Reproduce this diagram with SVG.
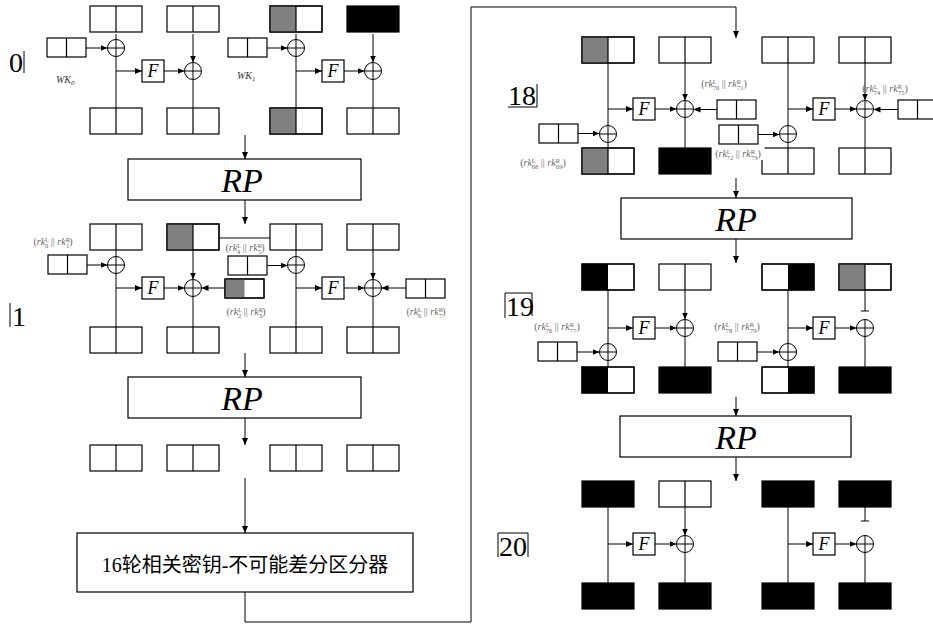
<svg xmlns="http://www.w3.org/2000/svg" xmlns:xlink="http://www.w3.org/1999/xlink" width="933" height="625" viewBox="0 0 933 625">
<style>
.b{fill:#fff;stroke:#000;stroke-width:1.2}
.d{stroke:#000;stroke-width:1.2}
.g{fill:#808080}
.k{fill:#000}
.ln{stroke:#000;stroke-width:1;fill:none}
.ar{marker-end:url(#ah)}
.xo circle{fill:#fff;stroke:#000;stroke-width:1}
.xo path{stroke:#000;stroke-width:1}
.fx{font-family:"Liberation Serif","DejaVu Serif","Times New Roman",serif;font-style:italic;font-size:18px;text-anchor:middle}
.rp{font-family:"Liberation Serif","DejaVu Serif","Times New Roman",serif;font-style:italic;font-size:34px;text-anchor:middle}
.num{font-family:"Liberation Serif","DejaVu Serif","Times New Roman",serif;font-size:28px}
.kl{font-family:"Liberation Serif","DejaVu Serif","Times New Roman",serif;font-size:10px;fill:#666;text-anchor:middle}
.kl .i{font-style:italic}
.kl .s{font-size:6.5px}
.wk{font-family:"Liberation Serif","DejaVu Serif","Times New Roman",serif;font-style:italic;font-size:10px;fill:#333}
.cn{font-family:"Liberation Serif","DejaVu Serif","Noto Sans CJK SC",serif;font-size:20px;text-anchor:middle}
</style>
<defs>
<marker id="ah" markerUnits="userSpaceOnUse" markerWidth="7" markerHeight="6" refX="7" refY="3" orient="auto"><path d="M0,0L7,3L0,6z" fill="#000"/></marker>
<g id="xor" class="xo"><circle r="8.5"/><path d="M-8.5 0H8.5M0-8.5V8.5"/></g>
<g id="pw"><rect class="b" width="52" height="26"/><path class="d" d="M26 0V26"/></g>
<g id="pg"><rect class="b" width="52" height="26"/><rect class="g" width="26" height="26"/><rect width="52" height="26" fill="none" stroke="#000" stroke-width="1.2"/><path class="d" d="M26 0V26"/></g>
<g id="pr"><rect class="b" width="52" height="26"/><rect class="k" x="26" width="26" height="26"/><rect width="52" height="26" fill="none" stroke="#000" stroke-width="1.2"/></g>
<g id="pl"><rect class="b" width="52" height="26"/><rect class="k" width="26" height="26"/><rect width="52" height="26" fill="none" stroke="#000" stroke-width="1.2"/></g>
<g id="pk"><rect width="52" height="26" fill="#000" stroke="#000" stroke-width="1.2"/></g>
<g id="kw"><rect class="b" width="39" height="19"/><path class="d" d="M19.5 0V19"/></g>
<g id="kg"><rect class="b" width="39" height="19"/><rect class="g" width="19.5" height="19"/><rect width="39" height="19" fill="none" stroke="#000" stroke-width="1.2"/></g>
</defs>
<rect width="933" height="625" fill="#fff"/>

<g id="connectors">
<path class="ln ar" d="M86 48H107.5"/>
<path class="ln" d="M116 34V108"/>
<path class="ln ar" d="M116 71H142"/>
<path class="ln ar" d="M164 71H184.5"/>
<path class="ln ar" d="M193 34V62.5"/>
<path class="ln" d="M193 79.5V108"/>
<path class="ln ar" d="M266 48H287.5"/>
<path class="ln" d="M296 34V108"/>
<path class="ln ar" d="M296 71H322"/>
<path class="ln ar" d="M344 71H364.5"/>
<path class="ln ar" d="M373 34V62.5"/>
<path class="ln" d="M373 79.5V108"/>
<path class="ln ar" d="M245 135V159"/>
<path class="ln ar" d="M245 200V224"/>
<path class="ln" d="M219 238H270"/>
<path class="ln ar" d="M87 265H107.5"/>
<path class="ln" d="M116 250V327"/>
<path class="ln ar" d="M116 288H142"/>
<path class="ln ar" d="M164 288H184.5"/>
<path class="ln ar" d="M193 250V279.5"/>
<path class="ln" d="M193 296.5V327"/>
<path class="ln ar" d="M225 288H201.5"/>
<path class="ln ar" d="M266 265.5H287.5"/>
<path class="ln" d="M296 250V327"/>
<path class="ln ar" d="M296 288H322"/>
<path class="ln ar" d="M344 288H364.5"/>
<path class="ln ar" d="M373 250V279.5"/>
<path class="ln" d="M373 296.5V327"/>
<path class="ln ar" d="M406 288H381.5"/>
<path class="ln ar" d="M245 353V377"/>
<path class="ln ar" d="M245 418V445"/>
<path class="ln ar" d="M245 478V533"/>
<path class="ln ar" d="M245 592V622H471V7H736V38"/>
<path class="ln" d="M608 63V148"/>
<path class="ln ar" d="M608 109H633"/>
<path class="ln ar" d="M578 133.5H599.5"/>
<path class="ln ar" d="M655 109H676.5"/>
<path class="ln ar" d="M685 63V100.5"/>
<path class="ln" d="M685 117.5V148"/>
<path class="ln ar" d="M717 109.5H693.5"/>
<path class="ln ar" d="M758 134.5H779.5"/>
<path class="ln" d="M788 63V148"/>
<path class="ln ar" d="M788 109H813"/>
<path class="ln ar" d="M835 109H856.5"/>
<path class="ln ar" d="M865 63V100.5"/>
<path class="ln" d="M865 117.5V148"/>
<path class="ln ar" d="M898 109.5H873.5"/>
<path class="ln ar" d="M736 178V198"/>
<path class="ln ar" d="M736 239V263"/>
<path class="ln" d="M608 290V367"/>
<path class="ln ar" d="M608 328H633"/>
<path class="ln ar" d="M577 352H599.5"/>
<path class="ln ar" d="M655 328H676.5"/>
<path class="ln ar" d="M685 290V319.5"/>
<path class="ln" d="M685 336.5V367"/>
<path class="ln ar" d="M757 352H779.5"/>
<path class="ln" d="M788 290V367"/>
<path class="ln ar" d="M788 328H813"/>
<path class="ln ar" d="M835 328H856.5"/>
<path class="ln" d="M865 290V311M861 311H869"/>
<path class="ln" d="M865 336.5V367"/>
<path class="ln ar" d="M736 397V416"/>
<path class="ln ar" d="M736 457V481"/>
<path class="ln" d="M608 507V583"/>
<path class="ln ar" d="M608 544H633"/>
<path class="ln ar" d="M655 544H676.5"/>
<path class="ln ar" d="M685 507V535.5"/>
<path class="ln" d="M685 552.5V583"/>
<path class="ln" d="M788 507V583"/>
<path class="ln ar" d="M788 544H813"/>
<path class="ln ar" d="M835 544H856.5"/>
<path class="ln" d="M865 507V521M861 521H869"/>
<path class="ln" d="M865 552.5V583"/>
</g>

<g id="r0-label"><text class="num" x="9" y="72">0</text><path class="ln" d="M24 51V73"/></g>
<g id="r0-in1"><use xlink:href="#pw" x="90" y="6"/></g>
<g id="r0-in2"><use xlink:href="#pw" x="167" y="6"/></g>
<g id="r0-in3"><use xlink:href="#pg" x="270" y="6"/></g>
<g id="r0-in4"><use xlink:href="#pk" x="347" y="6"/></g>
<g id="r0-wk0"><use xlink:href="#kw" x="47" y="38"/><text class="wk" x="56" y="83">WK<tspan font-size="7" dy="2">0</tspan></text></g>
<g id="r0-wk1"><use xlink:href="#kw" x="228" y="38"/><text class="wk" x="237" y="79">WK<tspan font-size="7" dy="2">1</tspan></text></g>
<g id="r0-x1"><use xlink:href="#xor" x="116" y="48"/></g>
<g id="r0-x2"><use xlink:href="#xor" x="193" y="71"/></g>
<g id="r0-x3"><use xlink:href="#xor" x="296" y="48"/></g>
<g id="r0-x4"><use xlink:href="#xor" x="373" y="71"/></g>
<g id="r0-f1"><rect class="b" x="142" y="60" width="22" height="22"/><text class="fx" x="153" y="77">F</text></g>
<g id="r0-f2"><rect class="b" x="322" y="60" width="22" height="22"/><text class="fx" x="333" y="77">F</text></g>
<g id="r0-out1"><use xlink:href="#pw" x="90" y="108"/></g>
<g id="r0-out2"><use xlink:href="#pw" x="167" y="108"/></g>
<g id="r0-out3"><use xlink:href="#pg" x="270" y="108"/></g>
<g id="r0-out4"><use xlink:href="#pw" x="347" y="108"/></g>
<g id="rp1"><rect class="b" x="128" y="159" width="233" height="41"/><text class="rp" x="242" y="192">RP</text></g>

<g id="r1-label"><path class="ln" d="M10 303V327"/><text class="num" x="12" y="326" font-size="20">1</text></g>
<g id="r1-in1"><use xlink:href="#pw" x="90" y="224"/></g>
<g id="r1-in2"><use xlink:href="#pg" x="167" y="224"/></g>
<g id="r1-in3"><use xlink:href="#pw" x="270" y="224"/></g>
<g id="r1-in4"><use xlink:href="#pw" x="347" y="224"/></g>
<g id="r1-k1"><use xlink:href="#kw" x="48" y="255"/><text class="kl" x="53" y="245">(<tspan class="i">rk</tspan><tspan class="s" dy="-3.5">L</tspan><tspan class="s" dx="-4" dy="6.5">0</tspan><tspan dy="-3"> || </tspan><tspan class="i">rk</tspan><tspan class="s" dy="-3.5">R</tspan><tspan class="s" dx="-4" dy="6.5">1</tspan><tspan dy="-3">)</tspan></text></g>
<g id="r1-k3"><use xlink:href="#kw" x="228" y="256"/><text class="kl" x="245" y="251">(<tspan class="i">rk</tspan><tspan class="s" dy="-3.5">L</tspan><tspan class="s" dx="-4" dy="6.5">4</tspan><tspan dy="-3"> || </tspan><tspan class="i">rk</tspan><tspan class="s" dy="-3.5">R</tspan><tspan class="s" dx="-4" dy="6.5">5</tspan><tspan dy="-3">)</tspan></text></g>
<g id="r1-k2"><use xlink:href="#kg" x="225" y="279"/><text class="kl" x="246" y="315">(<tspan class="i">rk</tspan><tspan class="s" dy="-3.5">L</tspan><tspan class="s" dx="-4" dy="6.5">2</tspan><tspan dy="-3"> || </tspan><tspan class="i">rk</tspan><tspan class="s" dy="-3.5">R</tspan><tspan class="s" dx="-4" dy="6.5">3</tspan><tspan dy="-3">)</tspan></text></g>
<g id="r1-k4"><use xlink:href="#kw" x="406" y="279"/><text class="kl" x="426" y="315">(<tspan class="i">rk</tspan><tspan class="s" dy="-3.5">L</tspan><tspan class="s" dx="-4" dy="6.5">6</tspan><tspan dy="-3"> || </tspan><tspan class="i">rk</tspan><tspan class="s" dy="-3.5">R</tspan><tspan class="s" dx="-4" dy="6.5">7</tspan><tspan dy="-3">)</tspan></text></g>
<g id="r1-x1"><use xlink:href="#xor" x="116" y="265"/></g>
<g id="r1-x2"><use xlink:href="#xor" x="193" y="288"/></g>
<g id="r1-x3"><use xlink:href="#xor" x="296" y="265"/></g>
<g id="r1-x4"><use xlink:href="#xor" x="373" y="288"/></g>
<g id="r1-f1"><rect class="b" x="142" y="277" width="22" height="22"/><text class="fx" x="153" y="294">F</text></g>
<g id="r1-f2"><rect class="b" x="322" y="277" width="22" height="22"/><text class="fx" x="333" y="294">F</text></g>
<g id="r1-out1"><use xlink:href="#pw" x="90" y="327"/></g>
<g id="r1-out2"><use xlink:href="#pw" x="167" y="327"/></g>
<g id="r1-out3"><use xlink:href="#pw" x="270" y="327"/></g>
<g id="r1-out4"><use xlink:href="#pw" x="347" y="327"/></g>
<g id="rp2"><rect class="b" x="128" y="377" width="233" height="41"/><text class="rp" x="242" y="410">RP</text></g>
<g id="r2-in1"><use xlink:href="#pw" x="90" y="445"/></g>
<g id="r2-in2"><use xlink:href="#pw" x="167" y="445"/></g>
<g id="r2-in3"><use xlink:href="#pw" x="270" y="445"/></g>
<g id="r2-in4"><use xlink:href="#pw" x="347" y="445"/></g>
<g id="distinguisher"><rect class="b" x="77" y="533" width="336" height="59"/><text class="cn" x="245" y="572">16轮相关密钥-不可能差分区分器</text></g>

<g id="r18-label"><text class="num" x="508" y="105">18</text><path class="ln" d="M508 107H537V84"/></g>
<g id="r18-in1"><use xlink:href="#pg" x="582" y="37"/></g>
<g id="r18-in2"><use xlink:href="#pw" x="659" y="37"/></g>
<g id="r18-in3"><use xlink:href="#pw" x="762" y="37"/></g>
<g id="r18-in4"><use xlink:href="#pw" x="839" y="37"/></g>
<g id="r18-k1"><use xlink:href="#kw" x="539" y="124"/><text class="kl" x="543" y="166">(<tspan class="i">rk</tspan><tspan class="s" dy="-3.5">L</tspan><tspan class="s" dx="-4" dy="6.5">68</tspan><tspan dy="-3"> || </tspan><tspan class="i">rk</tspan><tspan class="s" dy="-3.5">R</tspan><tspan class="s" dx="-4" dy="6.5">69</tspan><tspan dy="-3">)</tspan></text></g>
<g id="r18-k2"><use xlink:href="#kw" x="717" y="100"/><text class="kl" x="724" y="87">(<tspan class="i">rk</tspan><tspan class="s" dy="-3.5">L</tspan><tspan class="s" dx="-4" dy="6.5">70</tspan><tspan dy="-3"> || </tspan><tspan class="i">rk</tspan><tspan class="s" dy="-3.5">R</tspan><tspan class="s" dx="-4" dy="6.5">71</tspan><tspan dy="-3">)</tspan></text></g>
<g id="r18-k3"><use xlink:href="#kw" x="719" y="125"/></g>
<g id="r18-k4"><use xlink:href="#kw" x="898" y="100"/><text class="kl" x="885" y="92" text-anchor="start">(<tspan class="i">rk</tspan><tspan class="s" dy="-3.5">L</tspan><tspan class="s" dx="-4" dy="6.5">74</tspan><tspan dy="-3"> || </tspan><tspan class="i">rk</tspan><tspan class="s" dy="-3.5">R</tspan><tspan class="s" dx="-4" dy="6.5">75</tspan><tspan dy="-3">)</tspan></text></g>
<g id="r18-x1"><use xlink:href="#xor" x="608" y="134"/></g>
<g id="r18-x2"><use xlink:href="#xor" x="685" y="109"/></g>
<g id="r18-x3"><use xlink:href="#xor" x="788" y="134"/></g>
<g id="r18-x4"><use xlink:href="#xor" x="865" y="109"/></g>
<g id="r18-f1"><rect class="b" x="633" y="98" width="22" height="22"/><text class="fx" x="644" y="115">F</text></g>
<g id="r18-f2"><rect class="b" x="813" y="98" width="22" height="22"/><text class="fx" x="824" y="115">F</text></g>
<g id="r18-out1"><use xlink:href="#pg" x="582" y="148"/></g>
<g id="r18-out2"><use xlink:href="#pk" x="659" y="148"/></g>
<g id="r18-out3"><use xlink:href="#pw" x="762" y="148"/></g>
<g id="r18-out4"><use xlink:href="#pw" x="839" y="148"/></g>
<g id="r18-k3-label"><rect x="712.5" y="146" width="52" height="14" fill="#fff"/><text class="kl" x="738" y="157">(<tspan class="i">rk</tspan><tspan class="s" dy="-3.5">L</tspan><tspan class="s" dx="-4" dy="6.5">72</tspan><tspan dy="-3"> || </tspan><tspan class="i">rk</tspan><tspan class="s" dy="-3.5">R</tspan><tspan class="s" dx="-4" dy="6.5">73</tspan><tspan dy="-3">)</tspan></text></g>
<g id="rp3"><rect class="b" x="621" y="198" width="231" height="41"/><text class="rp" x="736" y="231">RP</text></g>

<g id="r19-label"><path class="ln" d="M505 318V293H532V316"/><text class="num" x="506" y="316">19</text></g>
<g id="r19-in1"><use xlink:href="#pl" x="582" y="264"/></g>
<g id="r19-in2"><use xlink:href="#pw" x="659" y="264"/></g>
<g id="r19-in3"><use xlink:href="#pr" x="762" y="264"/></g>
<g id="r19-in4"><use xlink:href="#pg" x="839" y="264"/></g>
<g id="r19-k1"><use xlink:href="#kw" x="538" y="342"/><text class="kl" x="557" y="330">(<tspan class="i">rk</tspan><tspan class="s" dy="-3.5">L</tspan><tspan class="s" dx="-4" dy="6.5">76</tspan><tspan dy="-3"> || </tspan><tspan class="i">rk</tspan><tspan class="s" dy="-3.5">R</tspan><tspan class="s" dx="-4" dy="6.5">77</tspan><tspan dy="-3">)</tspan></text></g>
<g id="r19-k3"><use xlink:href="#kw" x="718" y="342"/><text class="kl" x="737" y="330">(<tspan class="i">rk</tspan><tspan class="s" dy="-3.5">L</tspan><tspan class="s" dx="-4" dy="6.5">78</tspan><tspan dy="-3"> || </tspan><tspan class="i">rk</tspan><tspan class="s" dy="-3.5">R</tspan><tspan class="s" dx="-4" dy="6.5">79</tspan><tspan dy="-3">)</tspan></text></g>
<g id="r19-x1"><use xlink:href="#xor" x="608" y="352"/></g>
<g id="r19-x2"><use xlink:href="#xor" x="685" y="328"/></g>
<g id="r19-x3"><use xlink:href="#xor" x="788" y="352"/></g>
<g id="r19-x4"><use xlink:href="#xor" x="865" y="328"/></g>
<g id="r19-f1"><rect class="b" x="633" y="317" width="22" height="22"/><text class="fx" x="644" y="334">F</text></g>
<g id="r19-f2"><rect class="b" x="813" y="317" width="22" height="22"/><text class="fx" x="824" y="334">F</text></g>
<g id="r19-out1"><use xlink:href="#pl" x="582" y="367"/></g>
<g id="r19-out2"><use xlink:href="#pk" x="659" y="367"/></g>
<g id="r19-out3"><use xlink:href="#pr" x="762" y="367"/></g>
<g id="r19-out4"><use xlink:href="#pk" x="839" y="367"/></g>
<g id="rp4"><rect class="b" x="620" y="416" width="231" height="41"/><text class="rp" x="736" y="449">RP</text></g>

<g id="r20-label"><path class="ln" d="M498 557V533H528V557"/><text class="num" x="499" y="556">20</text></g>
<g id="r20-in1"><use xlink:href="#pk" x="582" y="481"/></g>
<g id="r20-in2"><use xlink:href="#pw" x="659" y="481"/></g>
<g id="r20-in3"><use xlink:href="#pk" x="762" y="481"/></g>
<g id="r20-in4"><use xlink:href="#pk" x="839" y="481"/></g>
<g id="r20-x2"><use xlink:href="#xor" x="685" y="544"/></g>
<g id="r20-x4"><use xlink:href="#xor" x="865" y="544"/></g>
<g id="r20-f1"><rect class="b" x="633" y="533" width="22" height="22"/><text class="fx" x="644" y="550">F</text></g>
<g id="r20-f2"><rect class="b" x="813" y="533" width="22" height="22"/><text class="fx" x="824" y="550">F</text></g>
<g id="r20-out1"><use xlink:href="#pk" x="582" y="583"/></g>
<g id="r20-out2"><use xlink:href="#pk" x="659" y="583"/></g>
<g id="r20-out3"><use xlink:href="#pk" x="762" y="583"/></g>
<g id="r20-out4"><use xlink:href="#pk" x="839" y="583"/></g>
</svg>
